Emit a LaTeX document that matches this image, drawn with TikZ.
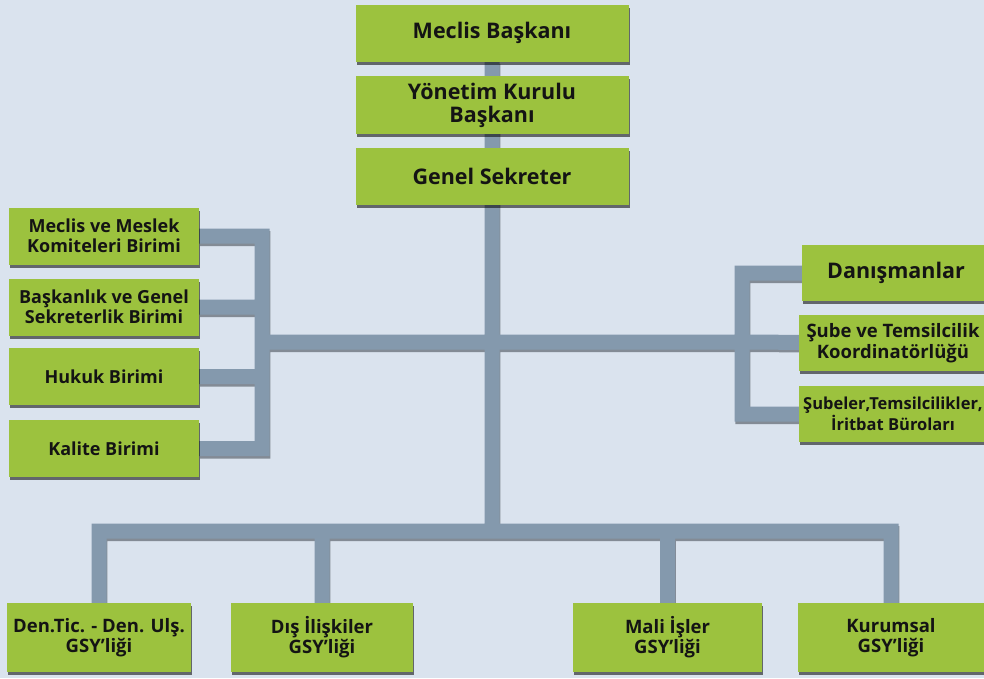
\documentclass[tikz,border=0pt]{standalone}
\usepackage{fontspec}
\setmainfont{Open Sans}
\usetikzlibrary{shadows,calc}
\definecolor{bgBlue}{HTML}{DAE3EE}
\definecolor{boxGreen}{HTML}{9CC23E}
\definecolor{lineGrey}{HTML}{8499AD}
\definecolor{lineShade}{HTML}{3C444C}
\pgfdeclarelayer{bg}
\pgfdeclarelayer{lines}
\pgfsetlayers{bg,lines,main}
\tikzset{
  unit/.style={fill=boxGreen, align=center, inner sep=0pt, text=black!92,
               minimum width=#1,
               drop shadow={shadow xshift=1.2pt, shadow yshift=-3pt, opacity=.55, fill=black}},
  topbox/.style={unit=273pt, minimum height=57pt, font=\fontsize{21.5}{23}\selectfont\bfseries},
  leftbox/.style={unit=190pt, minimum height=57pt, font=\fontsize{18}{20}\selectfont\bfseries},
  rightbox/.style={unit=188pt, minimum height=56pt, font=\fontsize{#1}{20.5}\selectfont\bfseries},
  rightbox/.default=18.5,
  botbox/.style={unit=#1, minimum height=69pt, font=\fontsize{18.5}{20}\selectfont\bfseries},
  link/.style={draw=lineGrey, line width=15pt,
               preaction={draw=lineShade, opacity=.55, line width=15pt,
                          transform canvas={xshift=.8pt, yshift=-2.5pt}}},
}
\begin{document}
\begin{tikzpicture}[x=1pt, y=-1pt]
  \useasboundingbox (0,0) rectangle (984,678);
  \begin{pgfonlayer}{bg}
    \fill[bgBlue] (0,0) rectangle (984,678);
  \end{pgfonlayer}
  \clip (0,0) rectangle (984,678);

  % top column
  \node[topbox] (mb) at (492,33) {Meclis Başkanı};
  \node[topbox, minimum height=58pt] (ykb) at (492,105) {Yönetim Kurulu\\Başkanı};
  \node[topbox] (gs) at (492,176.5) {Genel Sekreter};

  % left units
  \node[leftbox] (mmk) at (104,236) {Meclis ve Meslek\\Komiteleri Birimi};
  \node[leftbox] (bgs) at (104,307) {Başkanlık ve Genel\\Sekreterlik Birimi};
  \node[leftbox] (hb) at (104,376.5) {Hukuk Birimi};
  \node[leftbox] (kb) at (104,448.5) {Kalite Birimi};

  % right units
  \node[rightbox=21.5] (dan) at (896,273) {Danışmanlar};
  \node[rightbox] (stk) at (893,343) {Şube ve Temsilcilik\\Koordinatörlüğü};
  \node[rightbox=16.5] (sti) at (893,414) {Şubeler,Temsilcilikler,\\İritbat Büroları};

  % GSY units
  \node[botbox=184pt] (dtu) at (99,637.5) {Den.Tic. - Den. Ulş.\\GSY’liği};
  \node[botbox=182pt] (dis) at (322,637.5) {Dış İlişkiler\\GSY’liği};
  \node[botbox=189pt] (mis) at (667.5,637.5) {Mali İşler\\GSY’liği};
  \node[botbox=186pt] (kur) at (891,637.5) {Kurumsal\\GSY’liği};

  \coordinate (lj) at (262,342);
  \coordinate (rj) at (742,342);
  \coordinate (bj) at (492,531);

  \begin{pgfonlayer}{lines}
    \draw[link]
      (mb) -- (bj)
      (lj) -- (rj)
      (mmk) -| (lj) |- (kb)
      (bgs) -- (bgs -| lj)
      (hb) -- (hb -| lj)
      (dan) -| (rj) |- (sti)
      (rj) -- (stk)
      (dtu) |- (bj) -| (kur)
      (dis) -- (dis |- bj)
      (mis) -- (mis |- bj);
  \end{pgfonlayer}
\end{tikzpicture}
\end{document}
